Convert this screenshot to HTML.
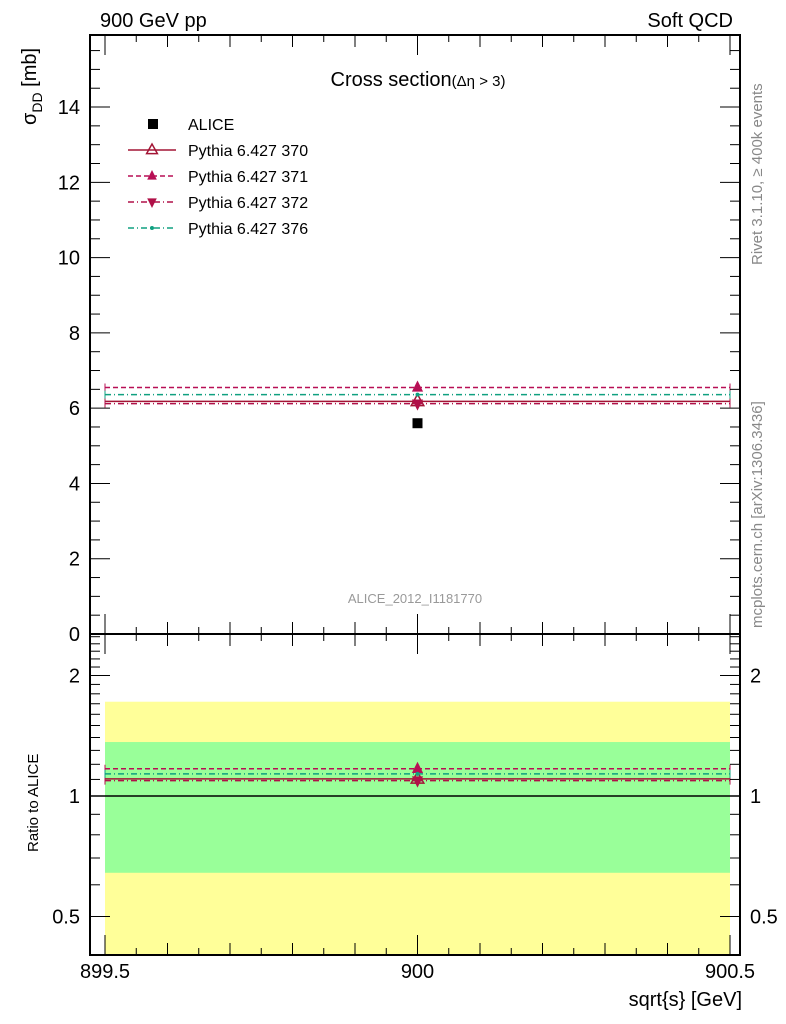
<!DOCTYPE html>
<html><head><meta charset="utf-8"><style>
body{margin:0;background:#fff}
svg{display:block;font-family:"Liberation Sans",sans-serif}
</style></head><body>
<svg id="c" width="786" height="1024" viewBox="0 0 786 1024" xmlns="http://www.w3.org/2000/svg">
<text x="100" y="27" font-size="20">900 GeV pp</text>
<text x="733" y="27" font-size="20" text-anchor="end">Soft QCD</text>
<text x="418" y="86" font-size="20" text-anchor="middle">Cross section<tspan font-size="15">(Δη &gt; 3)</tspan></text>
<text x="415" y="603" font-size="13" fill="#999" text-anchor="middle">ALICE_2012_I1181770</text>
<text transform="translate(762,265) rotate(-90)" font-size="15" fill="#888">Rivet 3.1.10, ≥ 400k events</text>
<text transform="translate(762,628) rotate(-90)" font-size="15" fill="#888">mcplots.cern.ch [arXiv:1306.3436]</text>
<text transform="translate(36,125) rotate(-90)" font-size="20">σ<tspan font-size="14" dy="6">DD</tspan><tspan dy="-6"> [mb]</tspan></text>
<text transform="translate(38,852) rotate(-90)" font-size="15">Ratio to ALICE</text>
<text x="742" y="1006" font-size="20" text-anchor="end">sqrt{s} [GeV]</text>
<g id="g"></g>
</svg>
<script>
const categories=[900];
const xEdgesLo=[899.5];
const xEdgesHi=[900.5];
const aliceVals=[5.6];
const bandInner=[0.35];
const bandOuter=[0.6];
const seriesNames=["Pythia 6.427 370","Pythia 6.427 371","Pythia 6.427 372","Pythia 6.427 376"];
const v370=[6.18];
const v371=[6.55];
const v372=[6.12];
const v376=[6.36];
const mainTicks=[0,2,4,6,8,10,12,14];
const ratioTicks=[0.5,1,2];
const xTicks=[899.5,900,900.5];

const L=90,R=740,T=35,M=634,B=955;
const X=v=>105+(v-899.5)*625;
const Y=v=>634-v*37.64;
const YR=v=>796-Math.log2(v)*120.5;
const NS="http://www.w3.org/2000/svg";
const g=document.getElementById('g');
function mk(t,a,p){const e=document.createElementNS(NS,t);for(const k in a)e.setAttribute(k,a[k]);(p||g).appendChild(e);return e;}

// ratio bands
for(let i=0;i<categories.length;i++){
 const lo=Math.max(1-bandOuter[i]*1.2,0.3);
 let e=mk('rect',{x:X(xEdgesLo[i]),y:YR(1+bandOuter[i]*1.2),width:X(xEdgesHi[i])-X(xEdgesLo[i]),height:Math.min(YR(0.3),B)-YR(1+bandOuter[i]*1.2),fill:'#ffff99'});
 
 
 e=mk('rect',{x:X(xEdgesLo[i]),y:YR(1+bandInner[i]*1.04),width:X(xEdgesHi[i])-X(xEdgesLo[i]),height:YR(1-bandInner[i]*1.02)-YR(1+bandInner[i]*1.04),fill:'#99ff99'});
 
 
}
mk('line',{x1:L,x2:R,y1:YR(1),y2:YR(1),stroke:'#000','stroke-width':1.5});

const series=[
 {name:'s370',vals:v370,color:'#a31535',dash:'',mk:'tri-open'},
 {name:'s371',vals:v371,color:'#b80f55',dash:'5,3',mk:'tri-up'},
 {name:'s372',vals:v372,color:'#b01048',dash:'6,3,1,3',mk:'tri-down'},
 {name:'s376',vals:v376,color:'#10a080',dash:'6,3,1,3',mk:'dot'}];
function marker(type,cx,cy,c,s){
 s=s||7;
 if(type==='tri-open')return mk('path',{d:`M${cx},${cy-s}L${cx+s*0.9},${cy+s*0.6}L${cx-s*0.9},${cy+s*0.6}Z`,fill:'none',stroke:c,'stroke-width':1.5});
 if(type==='tri-up')return mk('path',{d:`M${cx},${cy-s}L${cx+s*0.8},${cy+s*0.6}L${cx-s*0.8},${cy+s*0.6}Z`,fill:c});
 if(type==='tri-down')return mk('path',{d:`M${cx},${cy+s}L${cx+s*0.8},${cy-s*0.6}L${cx-s*0.8},${cy-s*0.6}Z`,fill:c});
 return mk('circle',{cx:cx,cy:cy,r:2,fill:c});
}
function drawSeries(yf,ratio,pre){
 series.forEach(s=>{
  for(let i=0;i<categories.length;i++){
   const v=ratio?s.vals[i]/aliceVals[i]:s.vals[i];
   const y=yf(v);
   const l=mk('line',{x1:X(xEdgesLo[i]),x2:X(xEdgesHi[i]),y1:y,y2:y,stroke:s.color,'stroke-width':1.5,'stroke-dasharray':s.dash});
   
   
   mk('line',{x1:X(xEdgesLo[i]),x2:X(xEdgesLo[i]),y1:y-4,y2:y+4,stroke:s.color});
   mk('line',{x1:X(xEdgesHi[i]),x2:X(xEdgesHi[i]),y1:y-4,y2:y+4,stroke:s.color});
   const m=marker(s.mk,X(categories[i]),y,s.color);
   
   
  }
 });
}
drawSeries(Y,false,'main');
drawSeries(YR,true,'ratio');
for(let i=0;i<categories.length;i++){
 const r=mk('rect',{x:X(categories[i])-5,y:Y(aliceVals[i])-5,width:10,height:10,fill:'#000'});
 
 
}

// frames
let f=mk('rect',{x:L,y:T,width:R-L,height:M-T,fill:'none',stroke:'#000','stroke-width':2});


f=mk('rect',{x:L,y:M,width:R-L,height:B-M,fill:'none',stroke:'#000','stroke-width':2});



// main y ticks
for(let v=0;v<=15.9;v+=0.5){
 const maj=Math.abs(v/2-Math.round(v/2))<1e-6, y=Y(v), len=maj?20:10;
 mk('line',{x1:L,x2:L+len,y1:y,y2:y,stroke:'#000'});
 mk('line',{x1:R,x2:R-len,y1:y,y2:y,stroke:'#000'});
}
mainTicks.forEach(v=>{const t=mk('text',{x:80,y:Y(v)+7,'font-size':20,'text-anchor':'end'});t.textContent=v;
 
 });
// ratio y ticks
[0.4,0.5,0.6,0.7,0.8,0.9,1,1.1,1.2,1.3,1.4,1.5,1.6,1.7,1.8,1.9,2,2.1,2.2,2.3,2.4,2.5].forEach(v=>{
 const y=YR(v); if(y<M||y>B)return;
 const len=ratioTicks.includes(v)?20:10;
 mk('line',{x1:L,x2:L+len,y1:y,y2:y,stroke:'#000'});
 mk('line',{x1:R,x2:R-len,y1:y,y2:y,stroke:'#000'});
});
ratioTicks.forEach(v=>{
 let t=mk('text',{x:80,y:YR(v)+7,'font-size':20,'text-anchor':'end'});t.textContent=v;
 
 
 t=mk('text',{x:750,y:YR(v)+7,'font-size':20});t.textContent=v;
 
 
});
// x ticks
for(let k=0;k<=20;k++){
 const v=899.5+k*0.05, x=X(v), len=(k%10===0)?20:(k%2===0?12:7);
 [T,M].forEach(y0=>mk('line',{x1:x,x2:x,y1:y0,y2:y0+len,stroke:'#000'}));
 [M,B].forEach(y0=>mk('line',{x1:x,x2:x,y1:y0,y2:y0-len,stroke:'#000'}));
}
xTicks.forEach(v=>{const t=mk('text',{x:X(v),y:978,'font-size':20,'text-anchor':'middle'});t.textContent=v;
 
 });

// legend
let ly=124;
let lr=mk('rect',{x:148,y:ly-5,width:10,height:10,fill:'#000'});
let lt=mk('text',{x:188,y:ly+6,'font-size':16});lt.textContent='ALICE';


series.forEach((s,i)=>{
 const y=ly+26*(i+1);
 mk('line',{x1:128,x2:176,y1:y,y2:y,stroke:s.color,'stroke-width':1.5,'stroke-dasharray':s.dash});
 marker(s.mk,152,y,s.color,6);
 const t=mk('text',{x:188,y:y+6,'font-size':16});t.textContent=seriesNames[i];
 
 
});
</script>
</body></html>
